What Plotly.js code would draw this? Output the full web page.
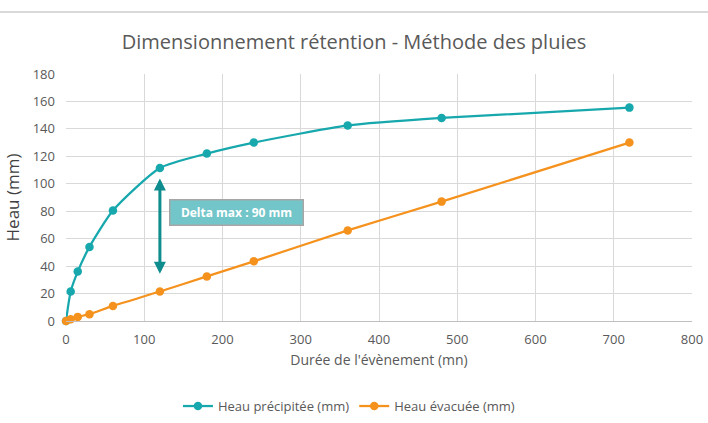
<!DOCTYPE html>
<html><head><meta charset="utf-8">
<script src="https://cdn.plot.ly/plotly-3.0.1.min.js"></script>
<style>html,body{margin:0;padding:0;background:#fff;}#topline{position:absolute;left:0;top:11px;width:708px;height:2px;background:#d9d9d9;}#chart{width:708px;height:423px;}</style>
</head><body>
<div id="topline"></div>
<div id="chart"></div>
<script>
const durees = [0, 6, 15, 30, 60, 120, 180, 240, 360, 480, 720];
const heauPrecipitee = [0, 21.5, 36, 54, 80.5, 111.5, 122, 130, 142.5, 148, 155.5];
const heauEvacuee = [0, 1.3, 3, 5, 11, 21.5, 32.5, 43.5, 66, 87, 130];
const seriesNames = ["Heau précipitée (mm)", "Heau évacuée (mm)"];
const deltaLabel = "Delta max : 90 mm";
const deltaX = 120;
const deltaTop = 105, deltaBottom = 34.5;

const teal = "#17A8AD", orange = "#F5921E";
const font = "Open Sans, Noto Sans, sans-serif";

const traces = [
  {x: durees, y: heauPrecipitee, name: seriesNames[0], type: "scatter", mode: "lines+markers", cliponaxis: false,
   line: {color: teal, width: 2.25, shape: "spline", smoothing: 0.6}, marker: {color: teal, size: 8.5}},
  {x: durees, y: heauEvacuee, name: seriesNames[1], type: "scatter", mode: "lines+markers", cliponaxis: false,
   line: {color: orange, width: 2.25, shape: "spline", smoothing: 0.6}, marker: {color: orange, size: 8.5}}
];

const layout = {
  width: 708, height: 423,
  margin: {l: 66, r: 16, t: 74, b: 102, autoexpand: false},
  paper_bgcolor: "rgba(0,0,0,0)", plot_bgcolor: "#fff",
  font: {family: font, color: "#595959", size: 13},
  title: {text: "Dimensionnement rétention - Méthode des pluies", x: 0.5, xanchor: "center", y: 0.9, yanchor: "middle",
          font: {size: 20, color: "#595959", family: font}},
  xaxis: {range: [0, 800], dtick: 100, tick0: 0, showgrid: true, gridcolor: "#d9d9d9", gridwidth: 1,
          zeroline: false, showline: true, linecolor: "#bfbfbf", linewidth: 1, ticks: "", automargin: false,
          ticklabelstandoff: 6,
          tickfont: {size: 13, color: "#595959"}, fixedrange: true,
          title: {text: "Durée de l'évènement (mn)", font: {size: 14, color: "#595959"}, standoff: 8}},
  yaxis: {range: [0, 180], dtick: 20, tick0: 0, showgrid: true, gridcolor: "#d9d9d9", gridwidth: 1,
          zeroline: false, showline: false, ticks: "", automargin: false,
          tickfont: {size: 13, color: "#595959"}, fixedrange: true,
          ticklabelstandoff: 10,
          title: {text: "Heau (mm)", font: {size: 17, color: "#404040"}, standoff: 8}},
  showlegend: true,
  legend: {orientation: "h", x: 0.452, xanchor: "center", yref: "container", y: 0.04, yanchor: "middle",
           font: {size: 13, color: "#595959"}, itemwidth: 30},
  annotations: [
    {x: deltaX, y: deltaBottom, ax: deltaX, ay: deltaTop, xref: "x", yref: "y", axref: "x", ayref: "y",
     showarrow: true, arrowhead: 2, startarrowhead: 2, arrowside: "end+start", arrowwidth: 3,
     arrowcolor: "#0E8C8E", arrowsize: 0.8, startarrowsize: 0.8, text: ""},
    {x: 218, y: 78.8, xref: "x", yref: "y", showarrow: false, text: "<b>" + deltaLabel + "</b>",
     font: {size: 12, color: "#ffffff", family: font}, bgcolor: "#72C5C9", bordercolor: "#a6a6a6",
     borderwidth: 1.5, borderpad: 4, width: 124, height: 16}
  ]
};
Plotly.newPlot("chart", traces, layout, {displayModeBar: false, staticPlot: true});
</script>
</body></html>
